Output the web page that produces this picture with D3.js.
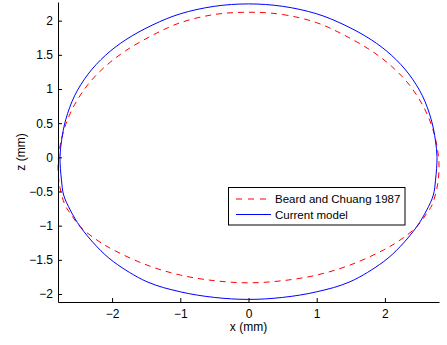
<!DOCTYPE html>
<html>
<head>
<meta charset="utf-8">
<script src="https://cdn.jsdelivr.net/npm/d3@7"></script>
<style>
  body { margin: 0; background: #fff; }
  text { font-family: "Liberation Sans", Arial, sans-serif; }
</style>
</head>
<body>
<div id="viz"></div>
<script>
// right half of the drop profile (x >= 0), top to bottom, in mm
var blueX = [0, 0.5, 1.0, 1.4, 1.8, 2.1, 2.35, 2.55, 2.68, 2.74, 2.764, 2.742, 2.710, 2.613, 2.466, 2.221, 1.977, 1.488, 0.999, 0.5, 0];
var blueZ = [2.245, 2.21, 2.10, 1.94, 1.72, 1.49, 1.22, 0.90, 0.55, 0.25, 0.0, -0.333, -0.552, -0.772, -1.016, -1.309, -1.529, -1.821, -1.968, -2.05, -2.079];

var redX = [0, 0.5, 1.0, 1.4, 1.8, 2.1, 2.35, 2.55, 2.68, 2.76, 2.793, 2.771, 2.69, 2.613, 2.466, 2.221, 1.977, 1.488, 0.999, 0.5, 0];
var redZ = [2.123, 2.09, 1.97, 1.79, 1.56, 1.33, 1.07, 0.77, 0.48, 0.18, -0.113, -0.406, -0.698, -0.82, -1.016, -1.211, -1.357, -1.577, -1.723, -1.805, -1.836];

var xTicks = [-2, -1, 0, 1, 2];
var zTicks = [-2, -1.5, -1, -0.5, 0, 0.5, 1, 1.5, 2];
var legendLabels = ["Beard and Chuang 1987", "Current model"];

var W = 447, H = 345;
var svg = d3.select("#viz").append("svg")
    .attr("width", W)
    .attr("height", H);

var x = d3.scaleLinear().domain([-2.793, 2.793]).range([58, 439]);
var y = d3.scaleLinear().domain([-2.117, 2.273]).range([302, 2]);

// whole outline = right half + mirrored left half (drop is axisymmetric)
function outline(xs, zs) {
    var pts = xs.map(function(d, i) { return [d, zs[i]]; });
    var left = pts.slice(1, pts.length - 1).reverse().map(function(p) { return [-p[0], p[1]]; });
    return pts.concat(left);
}

var line = d3.line()
    .x(function(d) { return x(d[0]); })
    .y(function(d) { return y(d[1]); })
    .curve(d3.curveCatmullRomClosed);

svg.append("path")
    .attr("d", line(outline(redX, redZ)))
    .attr("fill", "none")
    .attr("stroke", "#ff0000")
    .attr("stroke-width", 1)
    .attr("stroke-dasharray", "6,5");

svg.append("path")
    .attr("d", line(outline(blueX, blueZ)))
    .attr("fill", "none")
    .attr("stroke", "#0000ff")
    .attr("stroke-width", 1);

// axes, ticks pointing inward, no box
var fmt = function(d) { return String(d).replace("-", "\u2212"); };
var xAxis = svg.append("g")
    .attr("transform", "translate(0,302)")
    .call(d3.axisBottom(x).tickValues(xTicks).tickSizeInner(-4).tickSizeOuter(0).tickPadding(7).tickFormat(fmt));
var yAxis = svg.append("g")
    .attr("transform", "translate(58,0)")
    .call(d3.axisLeft(y).tickValues(zTicks).tickSizeInner(-4).tickSizeOuter(0).tickPadding(5).tickFormat(fmt));

[xAxis, yAxis].forEach(function(g) {
    g.select(".domain").attr("stroke", "#000");
    g.selectAll(".tick line").attr("stroke", "#000");
    g.selectAll(".tick text")
        .attr("fill", "#000")
        .style("font-size", "12px")
        .style("font-family", "'Liberation Sans', Arial, sans-serif");
});

svg.append("text")
    .attr("x", 248.5)
    .attr("y", 331)
    .attr("text-anchor", "middle")
    .style("font-size", "12px")
    .text("x (mm)");

svg.append("text")
    .attr("transform", "translate(25,152) rotate(-90)")
    .attr("text-anchor", "middle")
    .style("font-size", "12px")
    .text("z (mm)");

// legend
var lg = svg.append("g").attr("transform", "translate(228.5,187.5)");
lg.append("rect")
    .attr("width", 176.5)
    .attr("height", 37.5)
    .attr("fill", "#fff")
    .attr("stroke", "#000")
    .attr("stroke-width", 1);

var rows = lg.selectAll("g.row")
    .data(legendLabels)
    .enter()
    .append("g")
    .attr("transform", function(d, i) { return "translate(0," + (11.5 + i * 15.5) + ")"; });
rows.append("line")
    .attr("x1", 7.5)
    .attr("x2", 42.5)
    .attr("stroke", function(d, i) { return i == 0 ? "#ff0000" : "#0000ff"; })
    .attr("stroke-dasharray", function(d, i) { return i == 0 ? "6,6" : null; })
    .attr("stroke-width", 1);
rows.append("text")
    .attr("x", 46.5)
    .attr("dy", "0.35em")
    .style("font-size", "11.5px")
    .text(function(d) { return d; });
</script>
</body>
</html>
